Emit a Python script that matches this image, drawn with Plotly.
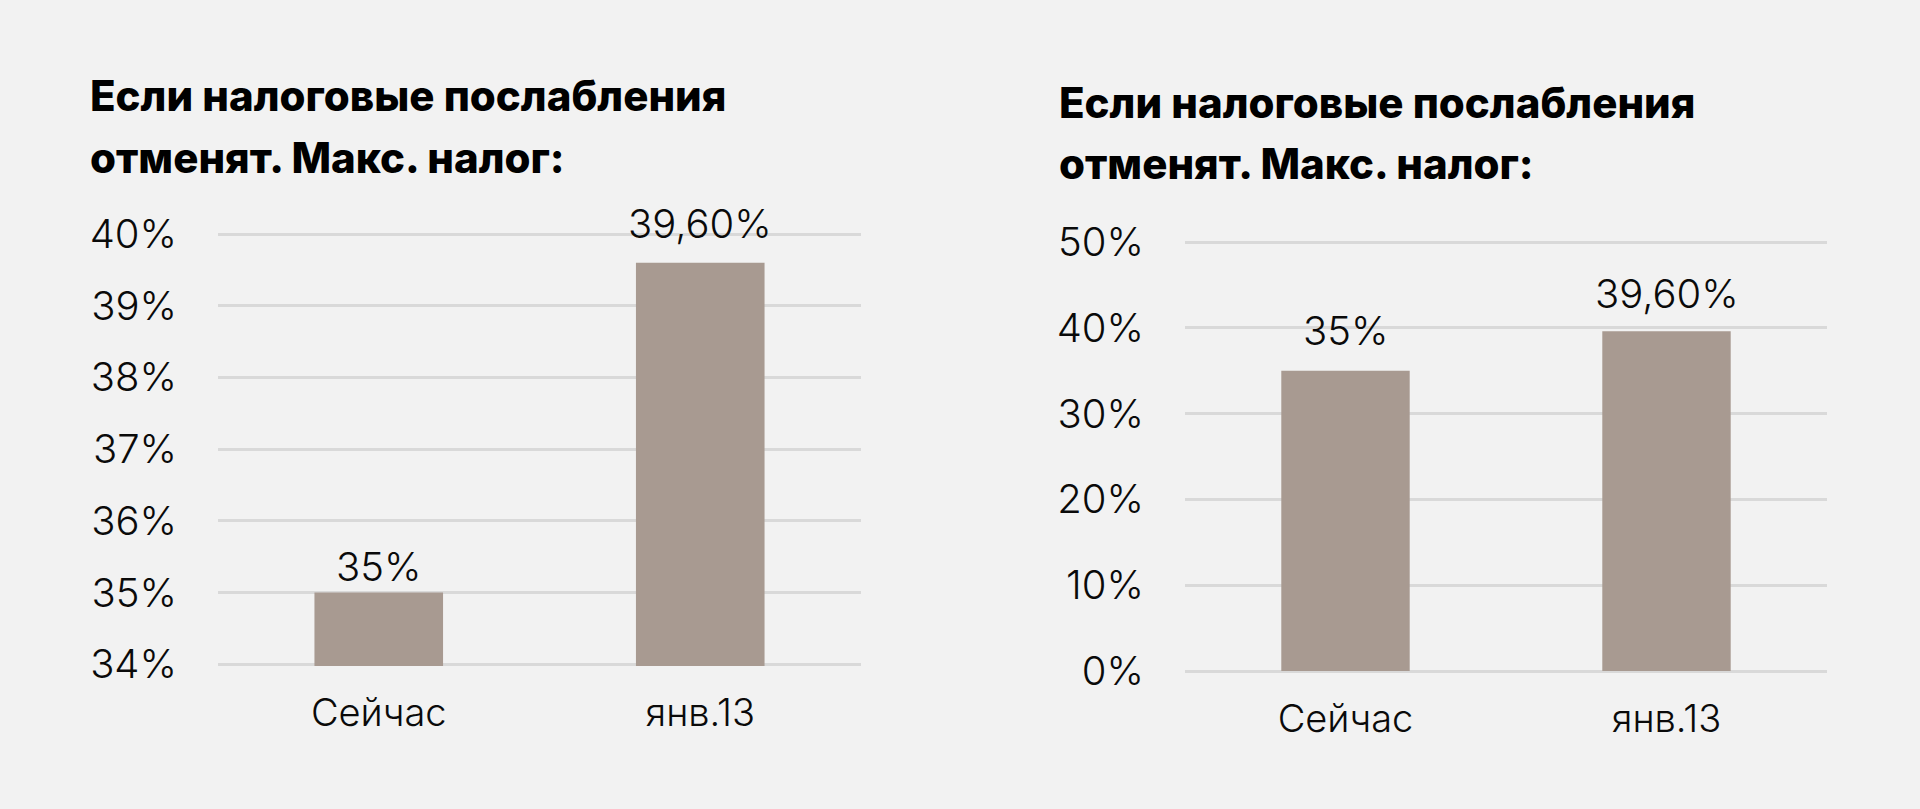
import plotly.graph_objects as go

# ---- data ----
categories = ["Сейчас", "янв.13"]
values_left = [35, 39.6]
values_right = [35, 39.6]
title_line1 = "Если налоговые послабления"
title_line2 = "отменят. Макс. налог:"
left_ticks = [34, 35, 36, 37, 38, 39, 40]
right_ticks = [0, 10, 20, 30, 40, 50]

BG = "#F2F2F2"
BAR = "#A89A91"
GRID = "#D9D9D9"
TXT = "#0A0A0A"
FONT = "Inter, 'Noto Sans', sans-serif"


def fmt(v):
    if float(v).is_integer():
        return f"{int(v)}%"
    return f"{v:.2f}".replace(".", ",") + "%"


W, H = 1920, 809


def y_setup(ticks, top_px, bottom_px, pad_top=3, pad_bot=1.6):
    """Extend the range by a few pixels so edge gridlines are drawn."""
    lo, hi = ticks[0], ticks[-1]
    ppu = (bottom_px - top_px) / (hi - lo)
    dom = [(H - (bottom_px + pad_bot)) / H, (H - (top_px - pad_top)) / H]
    return [lo - pad_bot / ppu, hi + pad_top / ppu], dom


rng_l, dom_l = y_setup(left_ticks, 234, 664.3)
rng_r, dom_r = y_setup(right_ticks, 242, 671)

fig = go.Figure()

fig.add_trace(go.Bar(x=categories, y=values_left, xaxis="x", yaxis="y",
                     marker=dict(color=BAR, line=dict(width=0)), width=0.4,
                     hoverinfo="skip"))
fig.add_trace(go.Bar(x=categories, y=values_right, xaxis="x2", yaxis="y2",
                     marker=dict(color=BAR, line=dict(width=0)), width=0.4,
                     hoverinfo="skip"))

tickfont = dict(family=FONT, size=40, color=TXT, weight=300)
xfont = dict(family=FONT, size=38, color=TXT, weight=300)

common_x = dict(showgrid=False, zeroline=False, showline=False,
                ticks="outside", ticklen=13, tickcolor=BG, tickfont=xfont,
                fixedrange=True, automargin=False)
common_y = dict(showgrid=True, gridcolor=GRID, gridwidth=3, showline=False,
                ticks="outside", ticklen=32, tickcolor=BG, tickfont=tickfont,
                fixedrange=True, automargin=False, tickmode="array")

fig.update_layout(
    width=W, height=H,
    margin=dict(l=0, r=0, t=0, b=0, autoexpand=False),
    paper_bgcolor=BG, plot_bgcolor=BG,
    showlegend=False,
    bargap=0.6,
    xaxis=dict(domain=[218 / W, 861 / W], anchor="y", **common_x),
    yaxis=dict(domain=dom_l, anchor="x", range=rng_l,
               tickvals=left_ticks, ticktext=[f"{t}%" for t in left_ticks],
               zeroline=False, **common_y),
    xaxis2=dict(domain=[1185 / W, 1827 / W], anchor="y2", **common_x),
    yaxis2=dict(domain=dom_r, anchor="x2", range=rng_r,
                tickvals=right_ticks, ticktext=[f"{t}%" for t in right_ticks],
                zeroline=True, zerolinecolor=GRID, zerolinewidth=3, **common_y),
)

annotations = []
# data labels
label_shift_left = [26, 39]
label_shift_right = [40, 38]
lblfont = dict(family=FONT, size=40, color=TXT, weight=300)
for c, v, s in zip(categories, values_left, label_shift_left):
    annotations.append(dict(x=c, y=v, xref="x", yref="y", text=fmt(v),
                            showarrow=False, yanchor="middle", yshift=s,
                            font=lblfont))
for c, v, s in zip(categories, values_right, label_shift_right):
    annotations.append(dict(x=c, y=v, xref="x2", yref="y2", text=fmt(v),
                            showarrow=False, yanchor="middle", yshift=s,
                            font=lblfont))

# titles
tfont = dict(family=FONT, size=42, color="#000000", weight=800)
for x0, y1, y2 in [(88 / W, 96, 157), (1057 / W, 102, 163)]:
    annotations.append(dict(x=x0, y=1 - y1 / H, xref="paper", yref="paper",
                            text=title_line1, showarrow=False, xanchor="left",
                            yanchor="middle", font=tfont))
    annotations.append(dict(x=x0, y=1 - y2 / H, xref="paper", yref="paper",
                            text=title_line2, showarrow=False, xanchor="left",
                            yanchor="middle", font=tfont))

fig.update_layout(annotations=annotations)

fig.write_html("out.html")
